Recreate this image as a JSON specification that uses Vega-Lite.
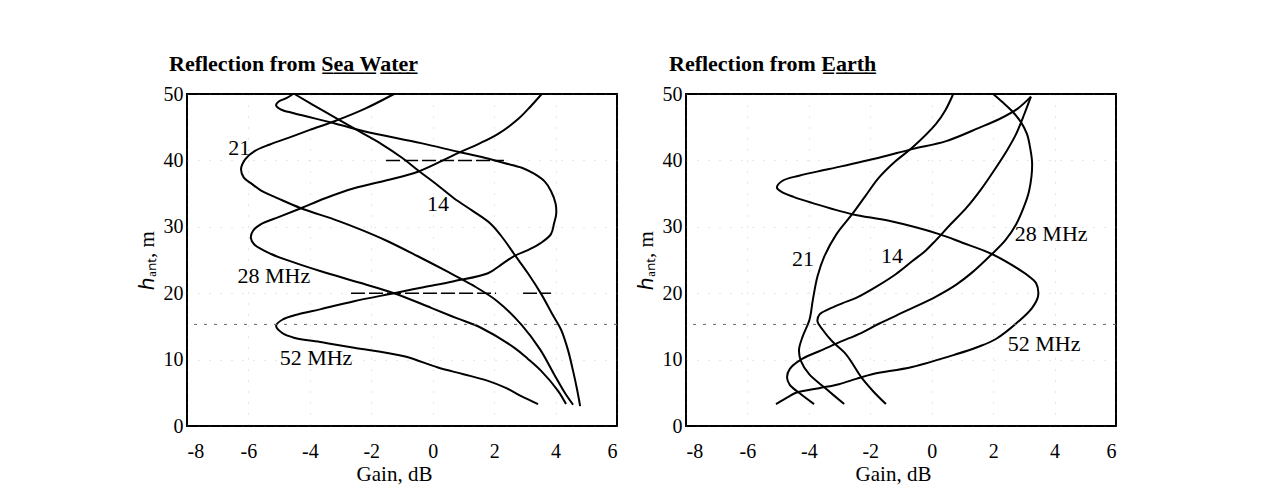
{
  "$schema": "https://vega.github.io/schema/vega-lite/v6.json",
  "padding": {"left": 135, "top": 52, "right": 5, "bottom": 5},
  "background": "white",
  "spacing": 15,
  "config": {
    "font": "Liberation Serif",
    "view": {"stroke": "black", "strokeWidth": 2},
    "axis": {
      "domain": false, "ticks": false, "tickSize": 0,
      "labelFont": "Liberation Serif", "labelFontSize": 20, "labelColor": "black",
      "titleFont": "Liberation Serif", "titleFontSize": 21, "titleFontWeight": "normal", "titleColor": "black",
      "grid": true, "gridColor": "#777777", "gridDash": [1, 10], "gridOpacity": 0.35,
      "labelExpr": "'' + datum.value"
    },
    "axisX": {"labelPadding": 15, "titlePadding": 2, "titleX": 207},
    "axisY": {"labelPadding": 4, "titlePadding": 6}
  },
  "datasets": {
    "curves": [
      {"p":"sea","f":"14","i":0,"gain":-4.5,"h":50},
      {"p":"sea","f":"14","i":1,"gain":-3.5,"h":47.3},
      {"p":"sea","f":"14","i":2,"gain":-2.4,"h":44.4},
      {"p":"sea","f":"14","i":3,"gain":-1.68,"h":42.5},
      {"p":"sea","f":"14","i":4,"gain":-1.0,"h":40.4},
      {"p":"sea","f":"14","i":5,"gain":-0.45,"h":38.4},
      {"p":"sea","f":"14","i":6,"gain":0.15,"h":36.3},
      {"p":"sea","f":"14","i":7,"gain":0.69,"h":34.3},
      {"p":"sea","f":"14","i":8,"gain":1.3,"h":32.4},
      {"p":"sea","f":"14","i":9,"gain":1.9,"h":30.4},
      {"p":"sea","f":"14","i":10,"gain":2.3,"h":28.2},
      {"p":"sea","f":"14","i":11,"gain":2.65,"h":25.9},
      {"p":"sea","f":"14","i":12,"gain":3.1,"h":23.0},
      {"p":"sea","f":"14","i":13,"gain":3.53,"h":19.9},
      {"p":"sea","f":"14","i":14,"gain":3.9,"h":16.8},
      {"p":"sea","f":"14","i":15,"gain":4.18,"h":14.5},
      {"p":"sea","f":"14","i":16,"gain":4.4,"h":11.5},
      {"p":"sea","f":"14","i":17,"gain":4.57,"h":8.3},
      {"p":"sea","f":"14","i":18,"gain":4.7,"h":5.5},
      {"p":"sea","f":"14","i":19,"gain":4.8,"h":3.0},

      {"p":"sea","f":"21","i":0,"gain":-1.26,"h":50},
      {"p":"sea","f":"21","i":1,"gain":-2.2,"h":47.8},
      {"p":"sea","f":"21","i":2,"gain":-3.2,"h":45.9},
      {"p":"sea","f":"21","i":3,"gain":-4.0,"h":44.6},
      {"p":"sea","f":"21","i":4,"gain":-4.7,"h":43.4},
      {"p":"sea","f":"21","i":5,"gain":-5.3,"h":42.4},
      {"p":"sea","f":"21","i":6,"gain":-5.8,"h":41.4},
      {"p":"sea","f":"21","i":7,"gain":-6.1,"h":40.2},
      {"p":"sea","f":"21","i":8,"gain":-6.24,"h":38.7},
      {"p":"sea","f":"21","i":9,"gain":-6.15,"h":37.4},
      {"p":"sea","f":"21","i":10,"gain":-5.9,"h":36.5},
      {"p":"sea","f":"21","i":11,"gain":-5.6,"h":35.5},
      {"p":"sea","f":"21","i":12,"gain":-5.0,"h":34.2},
      {"p":"sea","f":"21","i":13,"gain":-4.29,"h":32.8},
      {"p":"sea","f":"21","i":14,"gain":-3.08,"h":30.9},
      {"p":"sea","f":"21","i":15,"gain":-2.3,"h":29.5},
      {"p":"sea","f":"21","i":16,"gain":-1.5,"h":27.9},
      {"p":"sea","f":"21","i":17,"gain":-0.5,"h":25.6},
      {"p":"sea","f":"21","i":18,"gain":0.5,"h":23.2},
      {"p":"sea","f":"21","i":19,"gain":1.3,"h":21.2},
      {"p":"sea","f":"21","i":20,"gain":2.1,"h":18.8},
      {"p":"sea","f":"21","i":21,"gain":2.9,"h":15.2},
      {"p":"sea","f":"21","i":22,"gain":3.5,"h":11.5},
      {"p":"sea","f":"21","i":23,"gain":3.95,"h":7.8},
      {"p":"sea","f":"21","i":24,"gain":4.3,"h":5.0},
      {"p":"sea","f":"21","i":25,"gain":4.57,"h":3.2},

      {"p":"sea","f":"28","i":0,"gain":3.55,"h":50},
      {"p":"sea","f":"28","i":1,"gain":3.2,"h":48.2},
      {"p":"sea","f":"28","i":2,"gain":2.8,"h":46.3},
      {"p":"sea","f":"28","i":3,"gain":2.13,"h":44.0},
      {"p":"sea","f":"28","i":4,"gain":1.5,"h":42.5},
      {"p":"sea","f":"28","i":5,"gain":0.82,"h":41.1},
      {"p":"sea","f":"28","i":6,"gain":-0.48,"h":38.3},
      {"p":"sea","f":"28","i":7,"gain":-1.5,"h":37.0},
      {"p":"sea","f":"28","i":8,"gain":-2.56,"h":35.8},
      {"p":"sea","f":"28","i":9,"gain":-3.5,"h":34.3},
      {"p":"sea","f":"28","i":10,"gain":-4.29,"h":32.8},
      {"p":"sea","f":"28","i":11,"gain":-5.0,"h":31.5},
      {"p":"sea","f":"28","i":12,"gain":-5.59,"h":30.4},
      {"p":"sea","f":"28","i":13,"gain":-5.85,"h":29.4},
      {"p":"sea","f":"28","i":14,"gain":-5.92,"h":28.3},
      {"p":"sea","f":"28","i":15,"gain":-5.8,"h":27.3},
      {"p":"sea","f":"28","i":16,"gain":-5.26,"h":25.9},
      {"p":"sea","f":"28","i":17,"gain":-4.5,"h":24.6},
      {"p":"sea","f":"28","i":18,"gain":-3.64,"h":23.3},
      {"p":"sea","f":"28","i":19,"gain":-2.4,"h":21.6},
      {"p":"sea","f":"28","i":20,"gain":-1.26,"h":20.0},
      {"p":"sea","f":"28","i":21,"gain":-0.05,"h":17.8},
      {"p":"sea","f":"28","i":22,"gain":0.8,"h":16.2},
      {"p":"sea","f":"28","i":23,"gain":1.57,"h":14.8},
      {"p":"sea","f":"28","i":24,"gain":2.65,"h":11.8},
      {"p":"sea","f":"28","i":25,"gain":3.1,"h":10.1},
      {"p":"sea","f":"28","i":26,"gain":3.53,"h":8.3},
      {"p":"sea","f":"28","i":27,"gain":4.08,"h":5.3},
      {"p":"sea","f":"28","i":28,"gain":4.34,"h":3.3},

      {"p":"sea","f":"52","i":0,"gain":-4.55,"h":50},
      {"p":"sea","f":"52","i":1,"gain":-4.75,"h":49.4},
      {"p":"sea","f":"52","i":2,"gain":-5.0,"h":48.9},
      {"p":"sea","f":"52","i":3,"gain":-5.1,"h":48.3},
      {"p":"sea","f":"52","i":4,"gain":-4.95,"h":47.7},
      {"p":"sea","f":"52","i":5,"gain":-4.52,"h":47.1},
      {"p":"sea","f":"52","i":6,"gain":-3.21,"h":45.6},
      {"p":"sea","f":"52","i":7,"gain":-2.24,"h":44.4},
      {"p":"sea","f":"52","i":8,"gain":-0.38,"h":42.6},
      {"p":"sea","f":"52","i":9,"gain":0.82,"h":41.3},
      {"p":"sea","f":"52","i":10,"gain":1.6,"h":40.5},
      {"p":"sea","f":"52","i":11,"gain":2.32,"h":39.6},
      {"p":"sea","f":"52","i":12,"gain":2.9,"h":38.9},
      {"p":"sea","f":"52","i":13,"gain":3.3,"h":38.0},
      {"p":"sea","f":"52","i":14,"gain":3.65,"h":36.8},
      {"p":"sea","f":"52","i":15,"gain":3.85,"h":35.4},
      {"p":"sea","f":"52","i":16,"gain":4.0,"h":33.5},
      {"p":"sea","f":"52","i":17,"gain":4.02,"h":31.9},
      {"p":"sea","f":"52","i":18,"gain":3.95,"h":30.5},
      {"p":"sea","f":"52","i":19,"gain":3.85,"h":28.9},
      {"p":"sea","f":"52","i":20,"gain":3.5,"h":27.5},
      {"p":"sea","f":"52","i":21,"gain":3.1,"h":26.5},
      {"p":"sea","f":"52","i":22,"gain":2.65,"h":25.6},
      {"p":"sea","f":"52","i":23,"gain":2.2,"h":24.2},
      {"p":"sea","f":"52","i":24,"gain":1.8,"h":23.0},
      {"p":"sea","f":"52","i":25,"gain":0.69,"h":21.8},
      {"p":"sea","f":"52","i":26,"gain":-0.3,"h":20.9},
      {"p":"sea","f":"52","i":27,"gain":-1.26,"h":20.0},
      {"p":"sea","f":"52","i":28,"gain":-2.56,"h":18.8},
      {"p":"sea","f":"52","i":29,"gain":-3.64,"h":17.6},
      {"p":"sea","f":"52","i":30,"gain":-4.4,"h":16.8},
      {"p":"sea","f":"52","i":31,"gain":-4.9,"h":16.0},
      {"p":"sea","f":"52","i":32,"gain":-5.1,"h":15.1},
      {"p":"sea","f":"52","i":33,"gain":-4.9,"h":14.0},
      {"p":"sea","f":"52","i":34,"gain":-4.52,"h":13.3},
      {"p":"sea","f":"52","i":35,"gain":-3.6,"h":12.6},
      {"p":"sea","f":"52","i":36,"gain":-2.56,"h":11.8},
      {"p":"sea","f":"52","i":37,"gain":-0.93,"h":10.5},
      {"p":"sea","f":"52","i":38,"gain":0.17,"h":8.8},
      {"p":"sea","f":"52","i":39,"gain":1.0,"h":7.8},
      {"p":"sea","f":"52","i":40,"gain":1.8,"h":6.8},
      {"p":"sea","f":"52","i":41,"gain":2.4,"h":5.7},
      {"p":"sea","f":"52","i":42,"gain":2.88,"h":4.5},
      {"p":"sea","f":"52","i":43,"gain":3.43,"h":3.3},

      {"p":"earth","f":"14","i":0,"gain":-1.49,"h":3.3},
      {"p":"earth","f":"14","i":1,"gain":-1.9,"h":5.2},
      {"p":"earth","f":"14","i":2,"gain":-2.27,"h":7.2},
      {"p":"earth","f":"14","i":3,"gain":-2.79,"h":10.8},
      {"p":"earth","f":"14","i":4,"gain":-3.25,"h":12.8},
      {"p":"earth","f":"14","i":5,"gain":-3.55,"h":14.5},
      {"p":"earth","f":"14","i":6,"gain":-3.72,"h":15.8},
      {"p":"earth","f":"14","i":7,"gain":-3.65,"h":16.8},
      {"p":"earth","f":"14","i":8,"gain":-3.35,"h":17.6},
      {"p":"earth","f":"14","i":9,"gain":-2.9,"h":18.5},
      {"p":"earth","f":"14","i":10,"gain":-2.46,"h":19.3},
      {"p":"earth","f":"14","i":11,"gain":-1.8,"h":21.0},
      {"p":"earth","f":"14","i":12,"gain":-1.16,"h":22.9},
      {"p":"earth","f":"14","i":13,"gain":-0.64,"h":24.8},
      {"p":"earth","f":"14","i":14,"gain":-0.2,"h":26.4},
      {"p":"earth","f":"14","i":15,"gain":0.14,"h":28.0},
      {"p":"earth","f":"14","i":16,"gain":0.6,"h":30.3},
      {"p":"earth","f":"14","i":17,"gain":1.12,"h":32.8},
      {"p":"earth","f":"14","i":18,"gain":1.6,"h":35.6},
      {"p":"earth","f":"14","i":19,"gain":2.09,"h":38.9},
      {"p":"earth","f":"14","i":20,"gain":2.45,"h":41.5},
      {"p":"earth","f":"14","i":21,"gain":2.75,"h":44.0},
      {"p":"earth","f":"14","i":22,"gain":3.0,"h":46.8},
      {"p":"earth","f":"14","i":23,"gain":3.23,"h":49.6},

      {"p":"earth","f":"21","i":0,"gain":-2.85,"h":3.3},
      {"p":"earth","f":"21","i":1,"gain":-3.44,"h":5.6},
      {"p":"earth","f":"21","i":2,"gain":-3.99,"h":7.8},
      {"p":"earth","f":"21","i":3,"gain":-4.26,"h":9.8},
      {"p":"earth","f":"21","i":4,"gain":-4.32,"h":11.5},
      {"p":"earth","f":"21","i":5,"gain":-4.2,"h":13.5},
      {"p":"earth","f":"21","i":6,"gain":-3.98,"h":16.0},
      {"p":"earth","f":"21","i":7,"gain":-3.87,"h":19.0},
      {"p":"earth","f":"21","i":8,"gain":-3.72,"h":22.5},
      {"p":"earth","f":"21","i":9,"gain":-3.5,"h":25.5},
      {"p":"earth","f":"21","i":10,"gain":-3.1,"h":28.9},
      {"p":"earth","f":"21","i":11,"gain":-2.59,"h":31.9},
      {"p":"earth","f":"21","i":12,"gain":-2.15,"h":34.7},
      {"p":"earth","f":"21","i":13,"gain":-1.72,"h":37.4},
      {"p":"earth","f":"21","i":14,"gain":-1.2,"h":39.8},
      {"p":"earth","f":"21","i":15,"gain":-0.64,"h":41.9},
      {"p":"earth","f":"21","i":16,"gain":0.14,"h":45.5},
      {"p":"earth","f":"21","i":17,"gain":0.45,"h":47.6},
      {"p":"earth","f":"21","i":18,"gain":0.7,"h":50},

      {"p":"earth","f":"28","i":0,"gain":-3.83,"h":3.3},
      {"p":"earth","f":"28","i":1,"gain":-4.32,"h":5.0},
      {"p":"earth","f":"28","i":2,"gain":-4.62,"h":6.2},
      {"p":"earth","f":"28","i":3,"gain":-4.71,"h":7.3},
      {"p":"earth","f":"28","i":4,"gain":-4.62,"h":8.6},
      {"p":"earth","f":"28","i":5,"gain":-4.22,"h":10.1},
      {"p":"earth","f":"28","i":6,"gain":-3.6,"h":11.4},
      {"p":"earth","f":"28","i":7,"gain":-3.02,"h":12.6},
      {"p":"earth","f":"28","i":8,"gain":-2.3,"h":14.0},
      {"p":"earth","f":"28","i":9,"gain":-1.72,"h":15.4},
      {"p":"earth","f":"28","i":10,"gain":-0.8,"h":17.4},
      {"p":"earth","f":"28","i":11,"gain":0.14,"h":19.5},
      {"p":"earth","f":"28","i":12,"gain":0.8,"h":21.3},
      {"p":"earth","f":"28","i":13,"gain":1.31,"h":23.1},
      {"p":"earth","f":"28","i":14,"gain":1.96,"h":25.9},
      {"p":"earth","f":"28","i":15,"gain":2.4,"h":28.0},
      {"p":"earth","f":"28","i":16,"gain":2.75,"h":30.4},
      {"p":"earth","f":"28","i":17,"gain":3.0,"h":33.0},
      {"p":"earth","f":"28","i":18,"gain":3.17,"h":35.4},
      {"p":"earth","f":"28","i":19,"gain":3.27,"h":39.4},
      {"p":"earth","f":"28","i":20,"gain":3.2,"h":42.0},
      {"p":"earth","f":"28","i":21,"gain":3.1,"h":44.0},
      {"p":"earth","f":"28","i":22,"gain":2.9,"h":45.8},
      {"p":"earth","f":"28","i":23,"gain":2.62,"h":47.4},
      {"p":"earth","f":"28","i":24,"gain":2.3,"h":48.8},
      {"p":"earth","f":"28","i":25,"gain":2.0,"h":50},

      {"p":"earth","f":"52","i":0,"gain":-5.07,"h":3.3},
      {"p":"earth","f":"52","i":1,"gain":-4.7,"h":4.3},
      {"p":"earth","f":"52","i":2,"gain":-4.42,"h":5.0},
      {"p":"earth","f":"52","i":3,"gain":-3.67,"h":5.7},
      {"p":"earth","f":"52","i":4,"gain":-3.02,"h":6.3},
      {"p":"earth","f":"52","i":5,"gain":-2.46,"h":7.1},
      {"p":"earth","f":"52","i":6,"gain":-1.94,"h":7.8},
      {"p":"earth","f":"52","i":7,"gain":-0.64,"h":8.9},
      {"p":"earth","f":"52","i":8,"gain":0.79,"h":10.8},
      {"p":"earth","f":"52","i":9,"gain":1.5,"h":11.9},
      {"p":"earth","f":"52","i":10,"gain":2.09,"h":13.1},
      {"p":"earth","f":"52","i":11,"gain":2.84,"h":15.8},
      {"p":"earth","f":"52","i":12,"gain":3.27,"h":17.8},
      {"p":"earth","f":"52","i":13,"gain":3.46,"h":19.5},
      {"p":"earth","f":"52","i":14,"gain":3.4,"h":21.5},
      {"p":"earth","f":"52","i":15,"gain":3.15,"h":22.6},
      {"p":"earth","f":"52","i":16,"gain":2.94,"h":23.3},
      {"p":"earth","f":"52","i":17,"gain":1.96,"h":25.9},
      {"p":"earth","f":"52","i":18,"gain":1.0,"h":27.6},
      {"p":"earth","f":"52","i":19,"gain":0.24,"h":28.9},
      {"p":"earth","f":"52","i":20,"gain":-1.39,"h":30.9},
      {"p":"earth","f":"52","i":21,"gain":-2.59,"h":31.9},
      {"p":"earth","f":"52","i":22,"gain":-3.9,"h":33.6},
      {"p":"earth","f":"52","i":23,"gain":-4.5,"h":34.5},
      {"p":"earth","f":"52","i":24,"gain":-4.9,"h":35.3},
      {"p":"earth","f":"52","i":25,"gain":-5.04,"h":35.9},
      {"p":"earth","f":"52","i":26,"gain":-4.87,"h":36.9},
      {"p":"earth","f":"52","i":27,"gain":-4.32,"h":37.7},
      {"p":"earth","f":"52","i":28,"gain":-3.34,"h":38.7},
      {"p":"earth","f":"52","i":29,"gain":-1.72,"h":40.4},
      {"p":"earth","f":"52","i":30,"gain":-0.64,"h":41.7},
      {"p":"earth","f":"52","i":31,"gain":0.47,"h":42.9},
      {"p":"earth","f":"52","i":32,"gain":1.54,"h":44.9},
      {"p":"earth","f":"52","i":33,"gain":2.19,"h":46.2},
      {"p":"earth","f":"52","i":34,"gain":2.8,"h":47.8},
      {"p":"earth","f":"52","i":35,"gain":3.23,"h":49.6}
    ],
    "labels": [
      {"p":"sea","t":"21","gain":-6.3,"h":41.9},
      {"p":"sea","t":"14","gain":0.17,"h":33.4},
      {"p":"sea","t":"28 MHz","gain":-5.17,"h":22.6},
      {"p":"sea","t":"52 MHz","gain":-3.8,"h":10.2},
      {"p":"earth","t":"21","gain":-4.19,"h":25.2},
      {"p":"earth","t":"14","gain":-1.29,"h":25.6},
      {"p":"earth","t":"28 MHz","gain":3.89,"h":28.9},
      {"p":"earth","t":"52 MHz","gain":3.66,"h":12.3}
    ],
    "dashes": [
      {"p":"sea","gain":-1.52,"gain2":2.32,"h":40},
      {"p":"sea","gain":-2.66,"gain2":2.06,"h":20},
      {"p":"sea","gain":2.94,"gain2":3.85,"h":20}
    ],
    "scanline": [
      {"h":15.3}
    ]
  },
  "hconcat": [
    {
      "width": 430, "height": 332,
      "title": {"text": "Reflection from S\u0332e\u0332a\u0332 \u0332W\u0332a\u0332t\u0332e\u0332r\u0332", "anchor": "start", "frame": "group", "dx": -18, "fontSize": 22, "fontWeight": "bold", "font": "Liberation Serif", "offset": 8, "color": "black"},
      "layer": [
        {
          "data": {"name": "curves"},
          "transform": [{"filter": "datum.p === 'sea'"}],
          "mark": {"type": "line", "color": "black", "strokeWidth": 2, "interpolate": "catmull-rom"},
          "encoding": {
            "x": {"field": "gain", "type": "quantitative", "scale": {"domain": [-8, 6], "nice": false}, "axis": {"values": [-8,-6,-4,-2,0,2,4,6], "title": "Gain, dB"}},
            "y": {"field": "h", "type": "quantitative", "scale": {"domain": [0, 50], "nice": false}, "axis": {"values": [0,10,20,30,40,50], "title": "\u210e\u2090\u2099\u209c, m"}},
            "detail": {"field": "f"},
            "order": {"field": "i", "type": "quantitative"}
          }
        },
        {
          "data": {"name": "dashes"},
          "transform": [{"filter": "datum.p === 'sea'"}],
          "mark": {"type": "rule", "color": "black", "strokeWidth": 1.5, "strokeDash": [14, 4]},
          "encoding": {
            "x": {"field": "gain", "type": "quantitative", "title": "Gain, dB"},
            "x2": {"field": "gain2"},
            "y": {"field": "h", "type": "quantitative", "title": "\u210e\u2090\u2099\u209c, m"}
          }
        },
        {
          "data": {"name": "scanline"},
          "mark": {"type": "rule", "color": "#666666", "strokeWidth": 1, "strokeDash": [3, 7]},
          "encoding": {
            "y": {"field": "h", "type": "quantitative", "title": "\u210e\u2090\u2099\u209c, m"}
          }
        },
        {
          "data": {"name": "labels"},
          "transform": [{"filter": "datum.p === 'sea'"}],
          "mark": {"type": "text", "font": "Liberation Serif", "fontSize": 22, "color": "black", "align": "center", "baseline": "middle"},
          "encoding": {
            "x": {"field": "gain", "type": "quantitative", "title": "Gain, dB"},
            "y": {"field": "h", "type": "quantitative", "title": "\u210e\u2090\u2099\u209c, m"},
            "text": {"field": "t"}
          }
        }
      ]
    },
    {
      "width": 430, "height": 332,
      "title": {"text": "Reflection from E\u0332a\u0332r\u0332t\u0332h\u0332", "anchor": "start", "frame": "group", "dx": -17, "fontSize": 22, "fontWeight": "bold", "font": "Liberation Serif", "offset": 8, "color": "black"},
      "layer": [
        {
          "data": {"name": "curves"},
          "transform": [{"filter": "datum.p === 'earth'"}],
          "mark": {"type": "line", "color": "black", "strokeWidth": 2, "interpolate": "catmull-rom"},
          "encoding": {
            "x": {"field": "gain", "type": "quantitative", "scale": {"domain": [-8, 6], "nice": false}, "axis": {"values": [-8,-6,-4,-2,0,2,4,6], "title": "Gain, dB"}},
            "y": {"field": "h", "type": "quantitative", "scale": {"domain": [0, 50], "nice": false}, "axis": {"values": [0,10,20,30,40,50], "title": "\u210e\u2090\u2099\u209c, m"}},
            "detail": {"field": "f"},
            "order": {"field": "i", "type": "quantitative"}
          }
        },
        {
          "data": {"name": "scanline"},
          "mark": {"type": "rule", "color": "#666666", "strokeWidth": 1, "strokeDash": [3, 7]},
          "encoding": {
            "y": {"field": "h", "type": "quantitative", "title": "\u210e\u2090\u2099\u209c, m"}
          }
        },
        {
          "data": {"name": "labels"},
          "transform": [{"filter": "datum.p === 'earth'"}],
          "mark": {"type": "text", "font": "Liberation Serif", "fontSize": 22, "color": "black", "align": "center", "baseline": "middle"},
          "encoding": {
            "x": {"field": "gain", "type": "quantitative", "title": "Gain, dB"},
            "y": {"field": "h", "type": "quantitative", "title": "\u210e\u2090\u2099\u209c, m"},
            "text": {"field": "t"}
          }
        }
      ]
    }
  ]
}
